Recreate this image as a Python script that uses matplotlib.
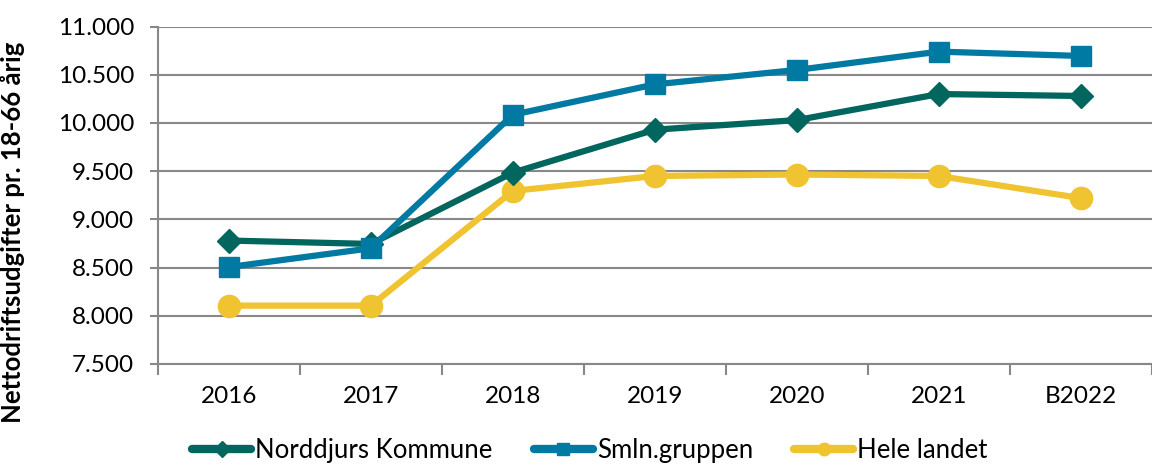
import matplotlib.pyplot as plt
from matplotlib.lines import Line2D
import numpy as np

# Data
years = ['2016', '2017', '2018', '2019', '2020', '2021', 'B2022']
norddjurs = [8780, 8745, 9485, 9930, 10030, 10300, 10280]
smln = [8505, 8700, 10085, 10400, 10550, 10740, 10695]
hele_landet = [8105, 8105, 9295, 9450, 9465, 9450, 9220]

c_nord = '#00665E'
c_smln = '#0079A3'
c_hele = '#F0C430'

plt.rcParams['font.family'] = ['Lato', 'DejaVu Sans']

fig = plt.figure(figsize=(11.52, 4.66), dpi=100)
ax = fig.add_axes([0.137, 0.219, 0.863, 0.724])

x = np.arange(len(years))

# Plot the three series
ax.plot(x, norddjurs, color=c_nord, linewidth=4.5, marker='D', markersize=12, zorder=3)
ax.plot(x, smln, color=c_smln, linewidth=4.5, marker='s', markersize=14, zorder=4)
ax.plot(x, hele_landet, color=c_hele, linewidth=4.5, marker='o', markersize=16, zorder=2)

# Axes limits and ticks
ax.set_ylim(7500, 11000)
ax.set_xlim(-0.5, 6.42)
ax.set_yticks(np.arange(7500, 11001, 500))
ax.set_yticklabels([f'{v:,}'.replace(',', '.') for v in range(7500, 11001, 500)])
ax.set_xticks(x)
ax.set_xticklabels(years)
ax.set_xticks(np.arange(-0.5, 6.6, 1), minor=True)
ax.tick_params(axis='x', which='major', length=0, pad=16, labelsize=17.5)
ax.tick_params(axis='x', which='minor', length=8, width=1.5, color='#888888')
ax.tick_params(axis='y', length=6, width=1.5, color='#888888', labelsize=17.5, pad=11)

# Gridlines and spines
ax.grid(axis='y', color='#888888', linewidth=1.5)
ax.set_axisbelow(True)
for s in ['top', 'right']:
    ax.spines[s].set_visible(False)
for s in ['left', 'bottom']:
    ax.spines[s].set_color('#888888')
    ax.spines[s].set_linewidth(1.5)

ax.set_ylabel('Nettodriftsudgifter pr. 18-66 årig', fontsize=18.5, fontweight='bold')
ax.yaxis.set_label_coords(-0.134, 0.39)

# Legend with small markers like the original
handles = [
    Line2D([], [], color=c_nord, linewidth=6, marker='D', markersize=8, solid_capstyle='round'),
    Line2D([], [], color=c_smln, linewidth=6, marker='s', markersize=9, solid_capstyle='round'),
    Line2D([], [], color=c_hele, linewidth=6, marker='o', markersize=9, solid_capstyle='round'),
]
fig.legend(handles, ['Norddjurs Kommune', 'Smln.gruppen', 'Hele landet'],
           loc='center left', bbox_to_anchor=(0.158, 0.033), ncol=3, frameon=False,
           fontsize=18.5, handlelength=2.3, handletextpad=0.15, columnspacing=1.6,
           borderaxespad=0)

plt.savefig('out.png', dpi=100)
